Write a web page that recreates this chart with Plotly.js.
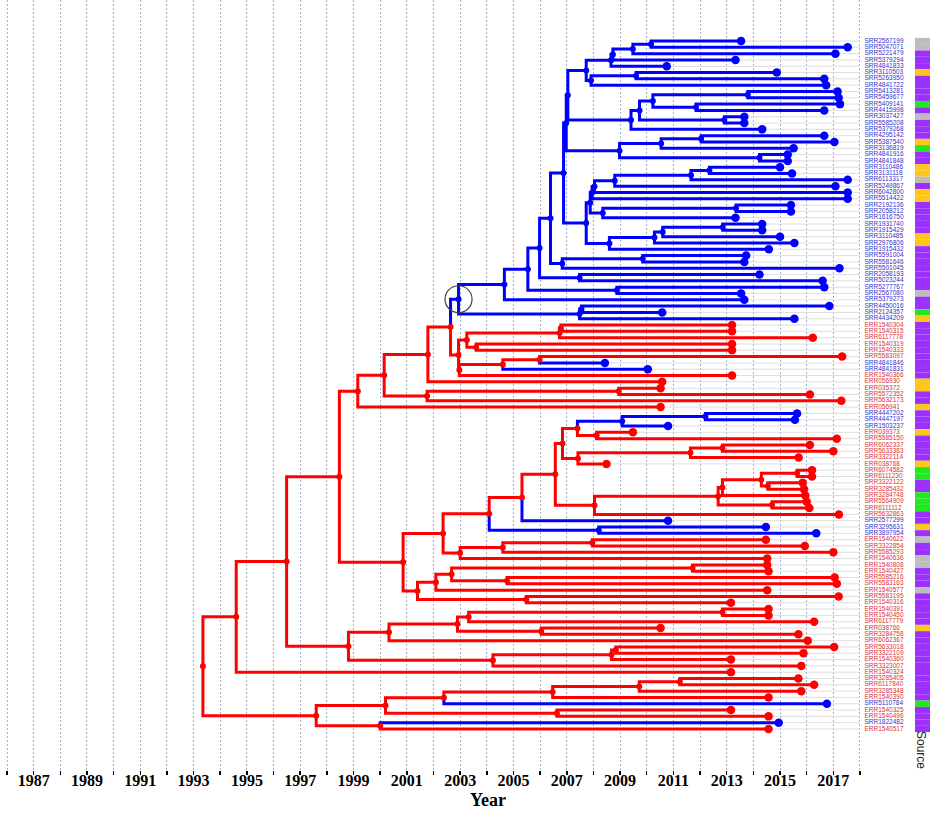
<!DOCTYPE html>
<html><head><meta charset="utf-8">
<script src="https://cdn.plot.ly/plotly-3.0.1.min.js"></script>
<style>html,body{margin:0;padding:0;background:#fff}#chart{width:930px;height:813px}</style>
</head><body><div id="chart"></div>
<script>
// ---------- tips (top to bottom) ----------
const tipLabels = [
'SRR2567199','SRR5047071','SRR5221479','SRR5379294','SRR4841833','SRR3110503','SRR5263950','SRR4841722','SRR5413281','SRR5459677',
'SRR5409141','SRR4415998','SRR3037427','SRR5585208','SRR5379268','SRR4295142','SRR5387540','SRR3136819','SRR4841916','SRR4841848',
'SRR3110486','SRR3131118','SRR6113317','SRR5249867','SRR6042800','SRR5514422','SRR2192136','SRR2058212','SRR1616750','SRR1931740',
'SRR1915429','SRR3110485','SRR2976806','SRR1915432','SRR5591004','SRR5581646','SRR5501045','SRR2058193','SRR5023244','SRR5277767',
'SRR2567080','SRR5379273','SRR4450016','SRR2124357','SRR4434209','ERR1540304','ERR1540315','SRR6117778','ERR1540319','ERR1540333',
'SRR5583097','SRR4841846','SRR4841831','ERR1540366','ERR056930','ERR035372','SRR5572352','SRR5632173','ERR056941','SRR4447202',
'SRR4447197','SRR1503237','ERR039373','SRR5585150','SRR6062337','SRR5633383','SRR3322114','ERR038768','SRR6074582','SRR6111230',
'SRR3322122','SRR3285432','SRR3284748','SRR5564909','SRR6111112','SRR5632863','SRR2577299','SRR3295631','SRR3897954','ERR1540622',
'SRR3322854','SRR5585293','ERR1540636','ERR1540808','ERR1540427','SRR5585216','SRR5583163','ERR1540577','SRR5583195','ERR1540316',
'ERR1540391','ERR1540450','SRR6117779','ERR038766','SRR3284758','SRR6062367','SRR5633018','SRR3322109','ERR1540360','SRR3323007',
'ERR1540324','SRR3285405','SRR6117840','SRR3285348','ERR1540390','SRR5110784','ERR1540325','ERR1540496','SRR1822482','ERR1540517'];
const tipYears = [
2013.54,2017.54,2017.08,2013.33,2010.75,2014.88,2016.66,2016.73,2017.16,2017.20,
2017.25,2016.66,2013.66,2013.66,2014.33,2016.66,2017.04,2015.51,2015.29,2015.29,
2015.00,2015.45,2017.54,2017.08,2017.54,2017.54,2015.41,2015.41,2013.33,2014.33,
2014.33,2015.00,2015.54,2014.58,2013.73,2013.66,2017.23,2014.23,2016.60,2016.66,
2013.54,2013.66,2016.85,2010.58,2015.54,2013.20,2013.20,2016.23,2013.20,2013.20,
2017.33,2008.43,2010.04,2013.20,2010.58,2010.52,2016.12,2017.30,2010.52,2015.64,
2015.56,2010.80,2009.48,2017.13,2016.12,2017.00,2015.70,2008.49,2016.20,2016.20,
2015.85,2015.90,2015.95,2016.00,2016.10,2017.21,2010.80,2014.47,2016.36,2014.47,
2015.93,2017.00,2014.52,2014.52,2014.57,2017.05,2017.13,2014.52,2017.20,2013.16,
2014.57,2014.57,2016.28,2010.52,2015.69,2016.04,2017.03,2015.88,2013.16,2015.80,
2013.16,2015.69,2016.28,2015.80,2014.57,2016.76,2013.16,2014.57,2014.95,2014.57];
// host state per tip: B = blue, R = red
const tipHosts = ('BBBBBBBBBB'+'BBBBBBBBBB'+'BBBBBBBBBB'+'BBBBBBBBBB'+'BBBBBRRRRR'+
                  'RBBRRRRRRB'+'BBRRRRRRRR'+'RRRRRRBBBR'+'RRRRRRRRRR'+'RRRRRRRRRR'+'RRRRRBRRBR').split('');
// source per tip: G gray, P purple, Y yellow, N green
const tipSources = ('GGPPPYPPPP'+'NPGPPPYNPP'+'YYGPYYPPPP'+'PYYPPPPPPP'+'GPPNYPPPPP'+
                    'PPPPYYPPYP'+'PPYPPPPYNN'+'PPNNNPPYPG'+'PPGGPPPGPP'+'PPPYPPPPPP'+'PPPPPNPPPP').split('');

// ---------- internal nodes ----------
const nodeIds = [
'a','b','c','d','e','f','g','h','i','j',
'k','l','m','n','o','p','q','N1','N2','r',
's','u','v','w','x','y','z','aa','ab','ac',
'ad','ae','B1','af','ag','A1','ah','ai','aj','ak',
'al','am','an','BR','ra','rb','rc','rd','re','rf',
'rg','R2','R1','RE','rh','RF','RD','RB','bi','bj',
'ri','rj','rk','rl','rm','rn','ro','rp','rq','rr',
'rs','rt','ru','rv','rw','bk','rx','ry','rz','sa',
'sb','sc','sd','se','sf','sg','sh','si','RA','sj',
'sk','sl','sm','sn','so','sp','sq','RH','RG','sr',
'ss','st','su','sv','sw','sx','sy','sz','ROOT'];
const nodeYears = [
2010.16,2009.48,2008.73,2008.66,2009.60,2007.91,2007.73,2013.79,2011.85,2010.23,
2012.91,2009.73,2009.41,2012.04,2010.54,2014.23,2008.98,2007.04,2006.98,2012.35,
2011.66,2008.80,2008.04,2007.95,2013.35,2008.35,2007.88,2012.85,2010.60,2010.29,
2008.60,2007.73,2006.88,2009.85,2006.83,2006.39,2007.48,2005.98,2008.88,2005.54,
2004.66,2007.55,2007.48,2002.94,2006.78,2006.73,2003.60,2003.25,2005.98,2004.60,
2002.97,2002.94,2002.64,2001.79,2008.95,2001.76,2000.15,1999.16,2012.20,2009.08,
2008.12,2007.40,2012.84,2011.64,2007.42,2006.84,2015.64,2014.54,2014.30,2012.84,
2014.70,2012.68,2008.04,2006.57,2005.32,2008.20,2004.09,2007.96,2004.60,2003.00,
2002.36,2011.72,2004.76,2002.68,2002.09,2005.48,2001.40,2000.86,1998.47,2012.84,
2003.32,2006.04,2002.90,2000.33,2008.84,2008.68,2004.23,1998.81,1996.49,1994.60,
2011.24,2009.72,2006.47,2002.39,2006.63,2000.20,2000.00,1997.60,1993.35];
const nodeKids = [
't1 t2','a t3','b t4','c t5','t6 t7','e t8','d f','t9 t10','t11 t12','h i',
't13 t14','j k','l t15','t16 t17','n t18','t19 t20','o p','g m','N1 q','t21 t22',
'r t23','s t24','u t25','v t26','t27 t28','x t29','w y','t30 t31','aa t32','ab t33',
'ac t34','z ad','N2 ae','t35 t36','af t37','B1 ag','t38 t39','A1 ah','t40 t41','ai aj',
'ak t42','t43 t44','am t45','al an','t46 t47','ra t48','t49 t50','rb rc','t51 t52','re t53',
'rf t54','rd rg','BR R2','R1 t55','t56 t57','rh t58','RE RF','RD t59','t60 t61','bi t62',
't63 t64','bj ri','t65 t66','rk t67','rl t68','rj rm','t69 t70','t71 t72','ro rp','rq t73',
't74 t75','rr rs','rt t76','rn ru','rv t77','t78 t79','rw bk','t80 t81','ry t82','rz t83',
'rx sa','t84 t85','t86 t87','sc sd','se t88','t89 t90','sf sg','sb sh','RB si','t91 t92',
'sj t93','t94 t95','sk sl','sm t96','t97 t98','so t99','sp t100','sn sq','RA RH','RG t101',
't102 t103','ss t104','st t105','su t106','t107 t108','sv sw','t109 t110','sx sy','sr sz'];
const nodeHosts = (
'BBBBBBBBBB'+'BBBBBBBBBB'+'BBBBBBBBBB'+'BBBBBBBBBB'+'BBBBRRRRRR'+
'RRRRRRRRBB'+'RRRRRRRRRR'+'RRRRRBRRRR'+'RRRRRRRRRR'+'RRRRRRRRRR'+'RRRRRRRRR').split('');

// ---------- axis ticks ----------
const tickYears = [];
for (let yr = 1986; yr <= 2018; yr++) tickYears.push(yr);
const tickLabels = tickYears.map(yr => (yr % 2 === 1 ? String(yr) : ''));

// ---------- style ----------
const COL = {B:'#0000ff', R:'#ff0000'};
const LABCOL = {B:'#3333cc', R:'#dd3333'};
const SRC = {G:'#bdbdbd', P:'#9b30ff', Y:'#ffc61a', N:'#22e822'};
const X0 = 1985.7374, X1 = 2020.627;
const LEADER_END = 2018.0, LABEL_X = 2018.17, STRIP_X = 2020.064;

// ---------- build tree geometry ----------
const nodes = {};
tipLabels.forEach((lab, i) => { nodes['t' + (i + 1)] = {x: tipYears[i], y: i + 1, h: tipHosts[i]}; });
nodeIds.forEach((id, i) => { nodes[id] = {x: nodeYears[i], y: null, h: nodeHosts[i], kids: nodeKids[i].split(' ')}; });
function yOf(id) {
  const n = nodes[id];
  if (n.y !== null && n.y !== undefined) return n.y;
  n.y = n.kids.map(yOf).reduce((a, b) => a + b, 0) / n.kids.length;
  return n.y;
}
nodeIds.forEach(yOf);

const seg = {B: {x: [], y: []}, R: {x: [], y: []}};
nodeIds.forEach(id => {
  const p = nodes[id];
  p.kids.forEach(k => {
    const c = nodes[k];
    const s = seg[c.h];
    s.x.push(p.x, p.x, c.x, null);
    s.y.push(p.y, c.y, c.y, null);
  });
});

const tipIdx = tipLabels.map((_, i) => i + 1);
const leadX = [], leadY = [];
tipIdx.forEach((t, i) => { leadX.push(tipYears[i], LEADER_END, null); leadY.push(t, t, null); });

const traces = [
  {type:'scatter', mode:'lines', x:leadX, y:leadY, line:{color:'#d6d6d6', width:0.8}, hoverinfo:'skip'},
  {type:'bar', orientation:'h', y:tipIdx, x:tipIdx.map(() => X1 - STRIP_X + 0.2), base:STRIP_X, width:1,
   marker:{color:tipSources.map(s => SRC[s]), line:{width:0}}, hoverinfo:'skip'},
  {type:'scatter', mode:'lines', x:seg.R.x, y:seg.R.y, line:{color:COL.R, width:3}, hoverinfo:'skip'},
  {type:'scatter', mode:'lines', x:seg.B.x, y:seg.B.y, line:{color:COL.B, width:3}, hoverinfo:'skip'},
  {type:'scatter', mode:'markers', x:nodeIds.map(id => nodes[id].x), y:nodeIds.map(id => nodes[id].y),
   marker:{size:6, color:nodeHosts.map(h => COL[h])}, hoverinfo:'skip'},
  {type:'scatter', mode:'markers', x:tipYears, y:tipIdx,
   marker:{size:8.5, color:tipHosts.map(h => COL[h])}, hoverinfo:'skip'},
  {type:'scatter', mode:'text', x:tipIdx.map(() => LABEL_X), y:tipIdx, text:tipLabels,
   textposition:'middle right', textfont:{family:'Liberation Sans, Arial, sans-serif', size:6.5, color:tipHosts.map(h => LABCOL[h])},
   hoverinfo:'skip'},
  {type:'scatter', mode:'markers', x:[nodes.BR.x], y:[nodes.BR.y],
   marker:{symbol:'circle-open', size:27, color:'#444', line:{width:1.2, color:'#444'}}, hoverinfo:'skip'}
];

const layout = {
  width:930, height:813,
  margin:{l:0, r:0, t:0, b:43},
  paper_bgcolor:'#ffffff', plot_bgcolor:'#ffffff',
  showlegend:false,
  xaxis:{range:[X0, X1], tickvals:tickYears, ticktext:tickLabels, showgrid:true, gridcolor:'#9fb3cf',
         griddash:'2px,2px', gridwidth:1, zeroline:false, showline:false, ticks:'outside', ticklen:4,
         tickwidth:1.5, tickcolor:'#000', ticklabelstandoff:-8,
         tickfont:{family:'Liberation Serif, Times New Roman, serif', size:16, weight:'bold', color:'#000'}},
  yaxis:{range:[116.496, -5.496], visible:false, showgrid:false, zeroline:false},
  annotations:[
    {text:'Year', xref:'paper', yref:'paper', x:488/930, y:(770-800)/770, xanchor:'center', yanchor:'middle',
     showarrow:false, font:{family:'Liberation Serif, Times New Roman, serif', size:18, weight:'bold', color:'#000'}},
    {text:'Source', xref:'paper', yref:'paper', x:921/930, y:(770-750)/770, xanchor:'center', yanchor:'middle',
     textangle:90, showarrow:false, font:{family:'Liberation Sans, Arial, sans-serif', size:12, color:'#222'}}
  ]
};
Plotly.newPlot('chart', traces, layout, {displayModeBar:false, staticPlot:true});
</script>
</body></html>
